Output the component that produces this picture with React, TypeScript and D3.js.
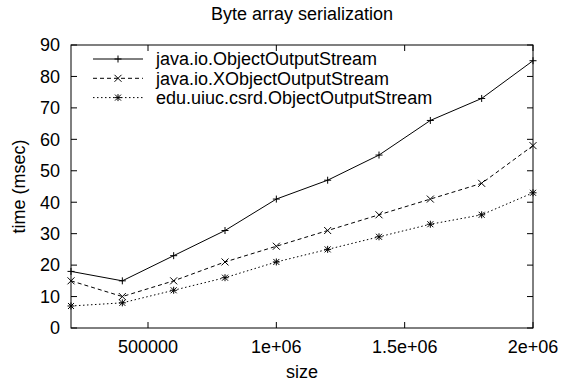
import React, { useEffect, useRef } from 'react';
import * as d3 from 'd3';

const sizes = [200000, 400000, 600000, 800000, 1000000, 1200000, 1400000, 1600000, 1800000, 2000000];
const javaIo = [18, 15, 23, 31, 41, 47, 55, 66, 73, 85];
const javaIoX = [15, 10, 15, 21, 26, 31, 36, 41, 46, 58];
const uiucCsrd = [7, 8, 12, 16, 21, 25, 29, 33, 36, 43];
const seriesNames = ['java.io.ObjectOutputStream', 'java.io.XObjectOutputStream', 'edu.uiuc.csrd.ObjectOutputStream'];
const xTicks = [500000, 1000000, 1500000, 2000000];
const xTickLabels = ['500000', '1e+06', '1.5e+06', '2e+06'];
const yTicks = [0, 10, 20, 30, 40, 50, 60, 70, 80, 90];

const FONT = 'Liberation Sans, Arial, sans-serif';

const App: React.FC = () => {
  const svgRef = useRef<SVGSVGElement>(null);

  useEffect(() => {
    if (!svgRef.current) return;
    d3.select(svgRef.current).selectAll('*').remove();

    const W = 562;
    const H = 385;
    const margin = { top: 45, right: 29, bottom: 57, left: 71 };
    const width = W - margin.left - margin.right;
    const height = H - margin.top - margin.bottom;

    const svg = d3.select(svgRef.current)
      .attr('width', W)
      .attr('height', H)
      .style('font-family', FONT);

    svg.append('rect').attr('width', W).attr('height', H).attr('fill', '#fff');

    const g = svg.append('g').attr('transform', `translate(${margin.left},${margin.top})`);

    const x = d3.scaleLinear().domain([200000, 2000000]).range([0, width]);
    const y = d3.scaleLinear().domain([0, 90]).range([height, 0]);

    const tickLen = 6;

    // y ticks, left and right (mirrored)
    yTicks.forEach(t => {
      g.append('line')
        .attr('x1', 0).attr('x2', tickLen)
        .attr('y1', y(t)).attr('y2', y(t))
        .attr('stroke', '#000');
      g.append('line')
        .attr('x1', width - tickLen).attr('x2', width)
        .attr('y1', y(t)).attr('y2', y(t))
        .attr('stroke', '#000');
      g.append('text')
        .attr('x', -11)
        .attr('y', y(t))
        .attr('dy', '0.35em')
        .attr('text-anchor', 'end')
        .attr('font-size', 18)
        .text(t);
    });

    // x ticks, bottom and top
    xTicks.forEach((t, i) => {
      g.append('line')
        .attr('x1', x(t)).attr('x2', x(t))
        .attr('y1', height).attr('y2', height - tickLen)
        .attr('stroke', '#000');
      g.append('line')
        .attr('x1', x(t)).attr('x2', x(t))
        .attr('y1', 0).attr('y2', tickLen)
        .attr('stroke', '#000');
      g.append('text')
        .attr('x', x(t))
        .attr('y', height + 25)
        .attr('text-anchor', 'middle')
        .attr('font-size', 18)
        .text(xTickLabels[i]);
    });

    // frame
    g.append('rect')
      .attr('x', 0).attr('y', 0)
      .attr('width', width).attr('height', height)
      .attr('fill', 'none')
      .attr('stroke', '#000');

    // titles
    svg.append('text')
      .attr('x', margin.left + width / 2)
      .attr('y', 20)
      .attr('text-anchor', 'middle')
      .attr('font-size', 18)
      .text('Byte array serialization');

    svg.append('text')
      .attr('x', margin.left + width / 2)
      .attr('y', 378)
      .attr('text-anchor', 'middle')
      .attr('font-size', 18)
      .text('size');

    svg.append('text')
      .attr('transform', `translate(25,${margin.top + height / 2}) rotate(-90)`)
      .attr('text-anchor', 'middle')
      .attr('font-size', 18)
      .text('time (msec)');

    const dashes = [null, '4,3', '1.5,2.5'];
    const allSeries = [javaIo, javaIoX, uiucCsrd];

    const drawMarker = (sel: d3.Selection<SVGGElement, unknown, null, undefined>, kind: number, cx: number, cy: number) => {
      const s = 3.5;
      const m = sel.append('g').attr('stroke', '#000').attr('stroke-width', 1);
      if (kind === 0 || kind === 2) {
        m.append('line').attr('x1', cx - s).attr('x2', cx + s).attr('y1', cy).attr('y2', cy);
        m.append('line').attr('x1', cx).attr('x2', cx).attr('y1', cy - s).attr('y2', cy + s);
      }
      if (kind === 1 || kind === 2) {
        const d = kind === 2 ? 3 : 3.5;
        m.append('line').attr('x1', cx - d).attr('x2', cx + d).attr('y1', cy - d).attr('y2', cy + d);
        m.append('line').attr('x1', cx - d).attr('x2', cx + d).attr('y1', cy + d).attr('y2', cy - d);
      }
    };

    const line = d3.line<number>()
      .x((d, i) => x(sizes[i]))
      .y(d => y(d));

    allSeries.forEach((vals, k) => {
      const p = g.append('path')
        .datum(vals)
        .attr('d', line)
        .attr('fill', 'none')
        .attr('stroke', '#000')
        .attr('stroke-width', 1);
      if (dashes[k]) p.attr('stroke-dasharray', dashes[k] as string);
      vals.forEach((v, i) => drawMarker(g as any, k, x(sizes[i]), y(v)));
    });

    // legend
    const legend = svg.append('g');
    seriesNames.forEach((name, k) => {
      const ly = 59 + k * 19.3;
      const l = legend.append('line')
        .attr('x1', 93).attr('x2', 143)
        .attr('y1', ly).attr('y2', ly)
        .attr('stroke', '#000')
        .attr('stroke-width', 1);
      if (dashes[k]) l.attr('stroke-dasharray', dashes[k] as string);
      drawMarker(legend as any, k, 118, ly);
      legend.append('text')
        .attr('x', 156)
        .attr('y', ly)
        .attr('dy', '0.35em')
        .attr('font-size', 18)
        .text(name);
    });
  }, []);

  return (
    <svg ref={svgRef} style={{ position: 'absolute', left: 0, top: 0 }}></svg>
  );
};

export default App;
